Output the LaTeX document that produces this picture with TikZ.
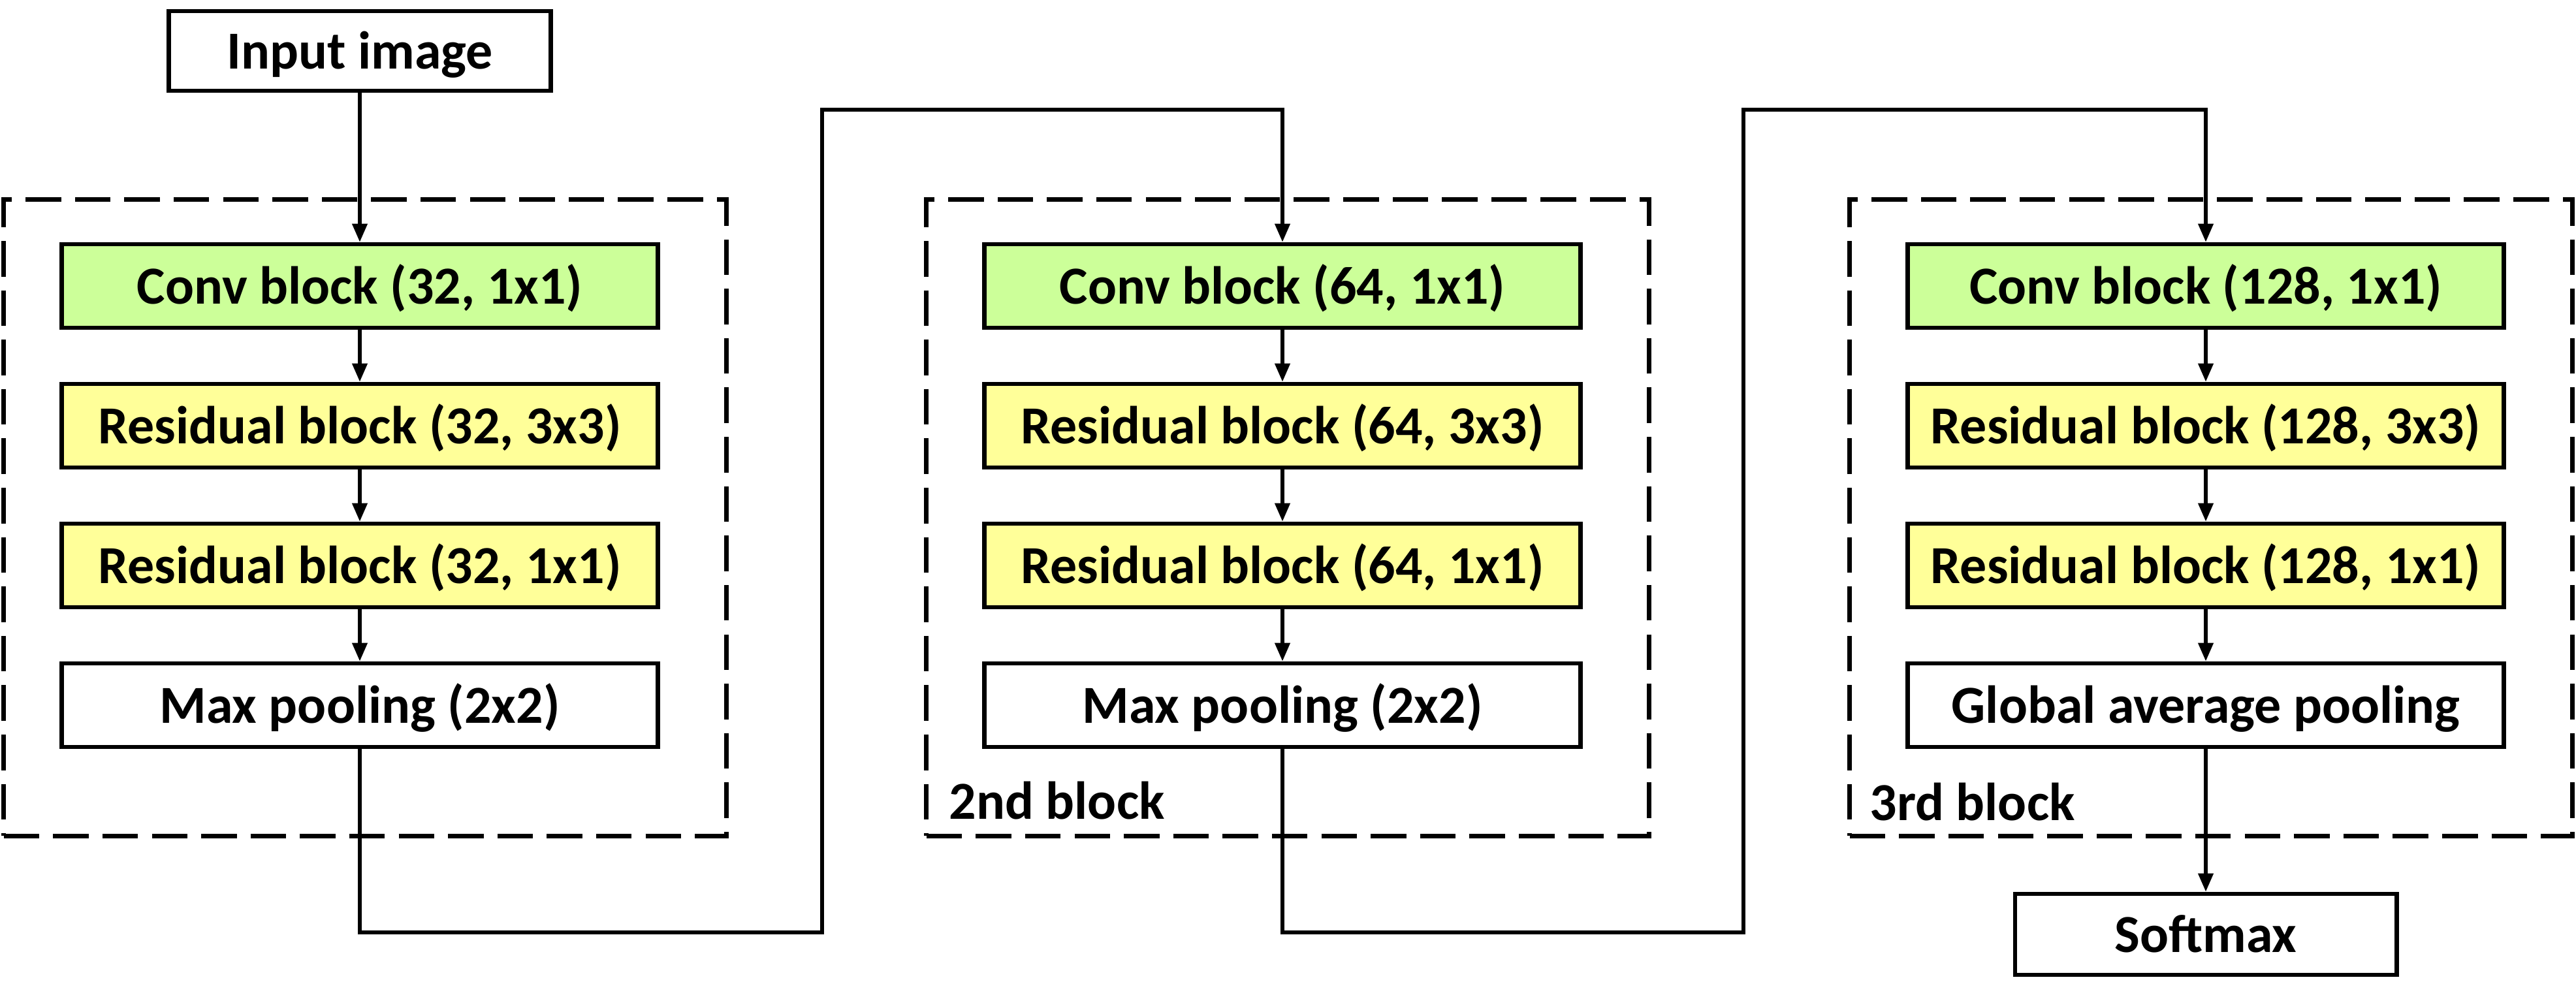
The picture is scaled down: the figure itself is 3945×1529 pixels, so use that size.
\documentclass[tikz,border=0pt]{standalone}
\usepackage{fontspec}
\setmainfont{Carlito}
\usetikzlibrary{arrows.meta}
\definecolor{convgreen}{HTML}{CCFF99}
\definecolor{resyellow}{HTML}{FFFF99}
\begin{document}
\begin{tikzpicture}[x=0.01cm,y=-0.01cm,
  box/.style={draw=black,line width=1.9pt,minimum width=9.12cm,minimum height=1.28cm,inner sep=0pt,
    text height=0.75cm,text depth=0.2cm,
    font=\fontsize{23.3}{28}\selectfont\bfseries},
  convbox/.style={box,fill=convgreen},
  resbox/.style={box,fill=resyellow},
  plainbox/.style={box,fill=white},
  smallbox/.style={box,fill=white,minimum width=5.84cm,minimum height=1.22cm},
  frame/.style={draw=black,line width=1.9pt,dash pattern=on 15.5pt off 6pt,minimum width=11.06cm,minimum height=9.74cm,inner sep=0pt},
  conn/.style={line width=1.45pt,-{Triangle[length=8pt,width=6.5pt]}},
  lbl/.style={font=\fontsize{23.3}{28}\selectfont\bfseries,inner sep=0pt,anchor=base west}]
\useasboundingbox (0,0) rectangle (3945,1529);
% frames
\node[frame] (f1) at (559,793) {};
\node[frame] (f2) at (1972,793) {};
\node[frame] (f3) at (3386,793) {};
\node[lbl] (l2) at (1453,1254) {2nd block};
\node[lbl] (l3) at (2863,1256) {3rd block};
% nodes
\node[smallbox] (input) at (551,78) {Input image};
\node[convbox] (c1) at (551,438) {Conv block (32, 1x1)};
\node[resbox] (r1a) at (551,652) {Residual block (32, 3x3)};
\node[resbox] (r1b) at (551,866) {Residual block (32, 1x1)};
\node[plainbox] (p1) at (551,1080) {Max pooling (2x2)};
\node[convbox] (c2) at (1964,438) {Conv block (64, 1x1)};
\node[resbox] (r2a) at (1964,652) {Residual block (64, 3x3)};
\node[resbox] (r2b) at (1964,866) {Residual block (64, 1x1)};
\node[plainbox] (p2) at (1964,1080) {Max pooling (2x2)};
\node[convbox] (c3) at (3378,438) {Conv block (128, 1x1)};
\node[resbox] (r3a) at (3378,652) {Residual block (128, 3x3)};
\node[resbox] (r3b) at (3378,866) {Residual block (128, 1x1)};
\node[plainbox] (p3) at (3378,1080) {Global average pooling};
\node[smallbox,minimum height=1.24cm] (soft) at (3378,1431) {Softmax};
% connector coordinates
\coordinate (b1) at (1259,1428);
\coordinate (t1) at (1259,168);
\coordinate (b2) at (2670,1428);
\coordinate (t2) at (2670,168);
% connectors
\draw[conn] (input) -- (c1);
\draw[conn] (c1) -- (r1a);
\draw[conn] (r1a) -- (r1b);
\draw[conn] (r1b) -- (p1);
\draw[conn] (c2) -- (r2a);
\draw[conn] (r2a) -- (r2b);
\draw[conn] (r2b) -- (p2);
\draw[conn] (c3) -- (r3a);
\draw[conn] (r3a) -- (r3b);
\draw[conn] (r3b) -- (p3);
\draw[conn] (p3) -- (soft);
\draw[conn] (p1.south) |- (b1) -- (t1) -| (c2.north);
\draw[conn] (p2.south) |- (b2) -- (t2) -| (c3.north);
\end{tikzpicture}
\end{document}
